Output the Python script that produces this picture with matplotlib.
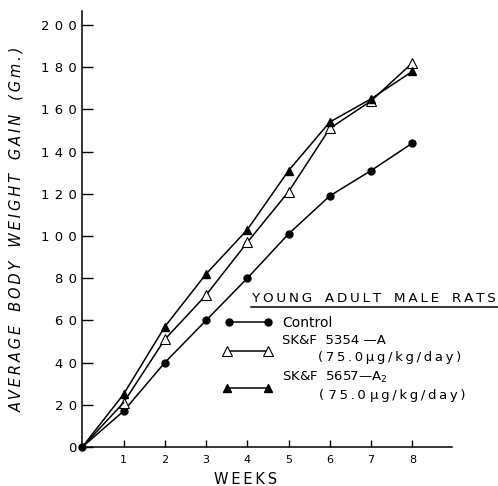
import matplotlib
matplotlib.use("Agg")
import matplotlib.pyplot as plt
from matplotlib.lines import Line2D
from matplotlib.ticker import FuncFormatter

weeks = [0, 1, 2, 3, 4, 5, 6, 7, 8]
control = [0, 17, 40, 60, 80, 101, 119, 131, 144]
skf5354 = [0, 21, 51, 72, 97, 121, 151, 164, 182]
skf5657 = [0, 25, 57, 82, 103, 131, 154, 165, 178]
xticks = [1, 2, 3, 4, 5, 6, 7, 8]
yticks = [0, 20, 40, 60, 80, 100, 120, 140, 160, 180, 200]

W, H = 498, 486
TS = '\u2009'


def ls(s, n=1):
    out = ''
    for i, c in enumerate(s):
        out += c
        if i + 1 < len(s) and c != ' ' and s[i + 1] != ' ':
            out += TS * n
    return out


fig = plt.figure(figsize=(W / 100, H / 100), dpi=100)
ax = fig.add_axes([82.3 / W, 39 / H, (452 - 82.3) / W, 436 / H])

lw = 1.1
ax.plot(weeks, control, color='black', lw=lw, marker='o', ms=5,
        mfc='black', mec='black', clip_on=False)
ax.plot(weeks[1:], skf5354[1:], color='black', lw=lw, marker='^', ms=7,
        mfc='white', mec='black', mew=0.8, clip_on=False)
ax.plot(weeks[:2], skf5354[:2], color='black', lw=lw, clip_on=False)
ax.plot(weeks[1:], skf5657[1:], color='black', lw=lw, marker='^', ms=5.5,
        mfc='black', mec='black', clip_on=False, zorder=3)
ax.plot(weeks[:2], skf5657[:2], color='black', lw=lw, clip_on=False)

ax.set_xlim(0, 8.96)
ax.set_ylim(0, 206.6)
ax.spines['top'].set_visible(False)
ax.spines['right'].set_visible(False)
ax.spines['left'].set_linewidth(1.1)
ax.spines['bottom'].set_linewidth(1.1)

ax.set_xticks(xticks)
ax.set_yticks(yticks)
spaced = FuncFormatter(lambda v, p: ls(str(int(v)), 2))
ax.yaxis.set_major_formatter(spaced)
ax.tick_params(axis='x', direction='in', length=5, width=1, pad=6, labelsize=8)
ax.tick_params(axis='y', direction='in', length=8, width=1, pad=4, labelsize=9.5)

ax.set_xlabel(ls('WEEKS'), fontsize=10.5)
ax.xaxis.set_label_coords((246 - 82.3) / 369.7, -(479 - 447) / 436, transform=ax.transAxes)
ax.xaxis.label.set_va('center')
ax.set_ylabel(ls('AVERAGE   BODY   WEIGHT   GAIN   (Gm.)'), fontsize=10.5,
              style='italic', labelpad=12)


def fx(x):
    return x / W


def fy(y):
    return 1 - y / H


# Legend drawn manually
fig.text(fx(252), fy(298), ls('YOUNG   ADULT   MALE   RATS'), fontsize=9.7,
         va='center', ha='left')
fig.add_artist(Line2D([fx(251), fx(498)], [fy(307), fy(307)], color='black', lw=1.1))

fig.add_artist(Line2D([fx(229), fx(268)], [fy(322), fy(322)], color='black', lw=lw,
                      marker='o', ms=5, mfc='black', mec='black'))
fig.text(fx(282), fy(323), 'Control', fontsize=10, va='center', ha='left')

fig.add_artist(Line2D([fx(227), fx(268)], [fy(351), fy(351)], color='black', lw=lw,
                      marker='^', ms=7, mfc='white', mec='black', mew=0.8))
fig.text(fx(282), fy(341), 'SK&F  5354 \u2014A', fontsize=9.5, va='center', ha='left')
fig.text(fx(318), fy(358), ls('(75.0\u03bcg/kg/day)'), fontsize=9.5, va='center', ha='left')

fig.add_artist(Line2D([fx(227), fx(268)], [fy(388), fy(388)], color='black', lw=lw,
                      marker='^', ms=5.5, mfc='black', mec='black'))
fig.text(fx(282), fy(377), 'SK&F  5657\u2014A$_2$', fontsize=9.5,
         va='center', ha='left')
fig.text(fx(319), fy(395), ls('( 75.0 \u03bcg/kg/day)'), fontsize=9.5, va='center', ha='left')

fig.savefig('out.png', dpi=100)
